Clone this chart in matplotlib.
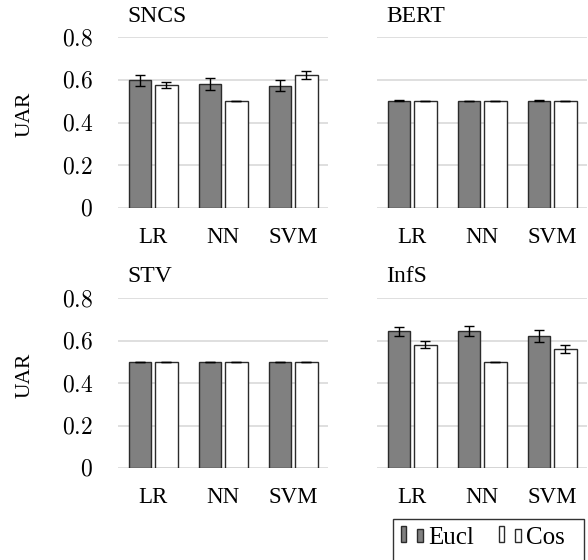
import matplotlib
matplotlib.use("Agg")
import matplotlib.pyplot as plt
import numpy as np
from matplotlib.patches import Rectangle
from matplotlib.legend_handler import HandlerBase

plt.rcParams['font.family'] = ['Liberation Serif', 'DejaVu Serif']
plt.rcParams['mathtext.fontset'] = 'cm'

# data
classifiers = ["LR", "NN", "SVM"]
panels = ["SNCS", "BERT", "STV", "InfS"]

eucl_mean = {
    "SNCS": [0.597, 0.581, 0.573],
    "BERT": [0.502, 0.500, 0.502],
    "STV": [0.500, 0.500, 0.500],
    "InfS": [0.643, 0.646, 0.622],
}
eucl_err = {
    "SNCS": [0.027, 0.029, 0.026],
    "BERT": [0.003, 0.001, 0.003],
    "STV": [0.001, 0.001, 0.001],
    "InfS": [0.021, 0.024, 0.027],
}
cos_mean = {
    "SNCS": [0.575, 0.500, 0.622],
    "BERT": [0.500, 0.500, 0.500],
    "STV": [0.500, 0.500, 0.500],
    "InfS": [0.581, 0.500, 0.560],
}
cos_err = {
    "SNCS": [0.013, 0.001, 0.017],
    "BERT": [0.001, 0.001, 0.001],
    "STV": [0.0, 0.0, 0.0],
    "InfS": [0.017, 0.0, 0.020],
}
yticks = [0, 0.2, 0.4, 0.6, 0.8]
ytick_labels = ["$0$", "$0.2$", "$0.4$", "$0.6$", "$0.8$"]

W, H = 588, 560
fig = plt.figure(figsize=(W / 100, H / 100), dpi=100)

edge = "#2b2b2b"
grey = "#808080"
grid = "#d9d9d9"

# axes boxes in pixels: (left, top of 0.8, width, bottom at 0)
boxes = {
    "SNCS": (118, 37, 210, 208),
    "BERT": (377, 37, 210, 208),
    "STV": (118, 298, 210, 468),
    "InfS": (377, 298, 210, 468),
}

x = np.arange(len(classifiers))
bw = 0.32
off = 0.19

for name in panels:
    l, t, w, b = boxes[name]
    ax = fig.add_axes([l / W, 1 - b / H, w / W, (b - t) / H])
    ax.bar(x - off, eucl_mean[name], bw, color=grey, edgecolor=edge, linewidth=1, zorder=3)
    ax.bar(x + off, cos_mean[name], bw, color="white", edgecolor=edge, linewidth=1, zorder=3)
    ax.errorbar(x - off, eucl_mean[name], yerr=eucl_err[name], fmt="none",
                ecolor="black", elinewidth=1, capsize=3.3, capthick=1, zorder=4)
    ax.errorbar(x + off, cos_mean[name], yerr=cos_err[name], fmt="none",
                ecolor="black", elinewidth=1, capsize=3.3, capthick=1, zorder=4)
    ax.set_xlim(-0.5, 2.5)
    ax.set_ylim(0, 0.8)
    ax.set_yticks(yticks)
    ax.yaxis.grid(True, color=grid, linewidth=1.2, zorder=0)
    ax.set_axisbelow(True)
    for s in ax.spines.values():
        s.set_visible(False)
    ax.set_xticks(x)
    ax.set_xticklabels(classifiers, fontsize=16.5)
    ax.tick_params(axis="both", length=0)
    ax.tick_params(axis="x", pad=14)
    if l < 200:
        ax.set_yticklabels(ytick_labels, fontsize=17)
        ax.tick_params(axis="y", pad=18)
        fig.text(25 / W, 1 - ((t + b) / 2 - 8) / H, "UAR", rotation=90, fontsize=15.5,
                 ha="center", va="center")
    else:
        ax.set_yticklabels([])
    fig.text((l + 9) / W, 1 - (t - 21) / H, name, fontsize=17, ha="left", va="center")


class TwoBoxHandler(HandlerBase):
    # tall narrow box followed by a small square, sizes in points
    def create_artists(self, legend, orig_handle, x0, y0, width, height, fontsize, trans):
        fc = orig_handle.get_facecolor()
        base = y0 + 1.8
        tall = Rectangle((x0, base), 3.6, 11.5,
                         facecolor=fc, edgecolor=edge, linewidth=1, transform=trans)
        sq = Rectangle((x0 + 11.7, base), 4.4, 9.1,
                       facecolor=fc, edgecolor=edge, linewidth=1, transform=trans)
        return [tall, sq]


h1 = Rectangle((0, 0), 1, 1, facecolor=grey)
h2 = Rectangle((0, 0), 1, 1, facecolor="white")
leg = fig.legend([h1, h2], ["Eucl", "Cos"], loc="center left",
                 bbox_to_anchor=(400.7 / W, 1 - 538 / H), bbox_transform=fig.transFigure,
                 ncol=2, fontsize=18, frameon=False, borderpad=0, borderaxespad=0,
                 handlelength=0.96, handletextpad=0.13, columnspacing=1.0,
                 handler_map={Rectangle: TwoBoxHandler()})
# legend frame runs past the bottom of the figure, as in the reference
fig.add_artist(Rectangle((393 / W, -0.02), (584 - 393) / W, 0.02 + 1 - 519 / H,
                         transform=fig.transFigure, fill=False, edgecolor="#333333",
                         linewidth=1))

fig.savefig("out.png", dpi=100)
